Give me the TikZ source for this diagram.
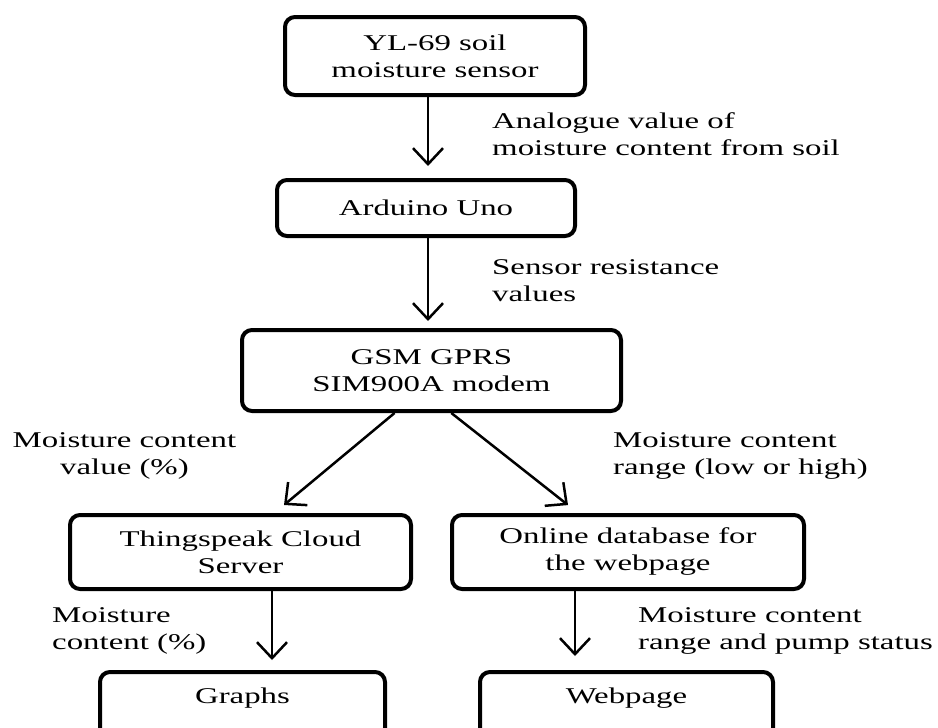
\documentclass[tikz,border=0pt]{standalone}
\usepackage{fontspec}
\setmainfont{Liberation Serif}[FakeStretch=1.46]
\usepackage{tikz}
\usetikzlibrary{arrows.meta}

\begin{document}
\begin{tikzpicture}[x=1pt,y=-1pt]
			\tikzstyle{every node}+=[inner sep=0pt,font=\fontsize{22.5}{27}\selectfont]
			\tikzstyle{box}=[draw=black,line width=4pt,rounded corners=10pt,align=center]
			\tikzstyle{arr}=[black,line width=2.5pt,-{Straight Barb[length=16pt,width=30pt]}]
			\tikzstyle{lbl}=[anchor=west,align=left]
			\useasboundingbox (0,0) rectangle (938,728);
			\clip (0,0) rectangle (938,728);
			\node [box,minimum width=300pt,minimum height=78pt] (sensor) at (435,56) {YL-69 soil\\moisture sensor};
			\node [box,minimum width=298pt,minimum height=56pt] (arduino) at (426,208) {Arduino Uno};
			\node [box,minimum width=379pt,minimum height=81pt] (gsm) at (431.5,370.5) {GSM GPRS\\SIM900A modem};
			\node [box,minimum width=341pt,minimum height=74pt] (thingspeak) at (240.5,552) {Thingspeak Cloud\\Server};
			\node [box,minimum width=352pt,minimum height=74pt] (database) at (628,552) {Online database for\\the webpage};
			\node [box,minimum width=285pt,minimum height=66pt,text height=10pt,text depth=13pt] (graphs) at (242.5,705) {Graphs};
			\node [box,minimum width=293pt,minimum height=66pt,text height=10pt,text depth=13pt] (webpage) at (626.5,705) {Webpage};
			\draw [arr,shorten >=12pt] ([xshift=-7pt]sensor.south) -- ([xshift=2pt]arduino.north);
			\node [lbl] (analogue) at (492,134) {Analogue value of\\moisture content from soil};
			\draw [arr,shorten >=7pt] ([xshift=2pt]arduino.south) -- ([xshift=-3.5pt]gsm.north);
			\node [lbl] (resistance) at (492,281) {Sensor resistance\\values};
			\draw [arr,shorten >=12.5pt] (gsm.229) -- (thingspeak.49);
			\node [align=center] (percent) at (124.5,456) {Moisture content\\value (\%)};
			\draw [arr,shorten >=12.8pt] (gsm.295) -- (database.142);
			\node [lbl] (range) at (613,456) {Moisture content\\range (low or high)};
			\draw [arr,shorten >=10pt] ([xshift=31.5pt]thingspeak.south) -- ([xshift=29.5pt]graphs.north);
			\node [lbl] (content) at (52,631) {Moisture\\content (\%)};
			\draw [arr,shorten >=14pt] ([xshift=-53pt]database.south) -- ([xshift=-51.5pt]webpage.north);
			\node [lbl] (status) at (638,631) {Moisture content\\range and pump status};
		\end{tikzpicture}
\end{document}
